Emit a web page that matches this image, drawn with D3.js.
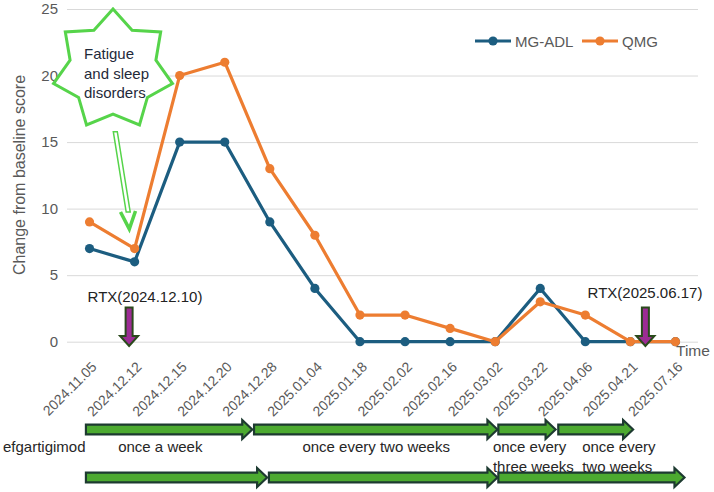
<!DOCTYPE html>
<html><head><meta charset="utf-8">
<script src="https://cdn.jsdelivr.net/npm/d3@7"></script>
<style>body{margin:0;background:#fff}svg{display:block;font-family:"Liberation Sans",Arial,sans-serif}</style>
</head><body>
<svg id="c" width="714" height="492"></svg>
<script>
const categories = ["2024.11.05","2024.12.12","2024.12.15","2024.12.20","2024.12.28","2025.01.04","2025.01.18","2025.02.02","2025.02.16","2025.03.02","2025.03.22","2025.04.06","2025.04.21","2025.07.16"];
const mgadl = [7,6,15,15,9,4,0,0,0,0,4,0,0,0];
const qmg   = [9,7,20,21,13,8,2,2,1,0,3,2,0,0];
const yTicks = [0,5,10,15,20,25];
const seriesNames = ["MG-ADL","QMG"];
const rtxLabels = ["RTX(2024.12.10)","RTX(2025.06.17)"];
// treatment schedule, start/end in category-index units
const scheduleRow1 = [[-0.08,3.61],[3.65,9.05],[9.07,10.34],[10.40,12.06]];
const scheduleRow2 = [[-0.08,3.94],[3.98,9.05],[9.07,13.20]];
const scheduleLabels = [
  {lines:["once a week"], at:1.57, anchor:"middle"},
  {lines:["once every two weeks"], at:6.36, anchor:"middle"},
  {lines:["once every","three weeks"], at:8.95, anchor:"start"},
  {lines:["once every","two weeks"], at:10.93, anchor:"start"}
];

const svg = d3.select("#c");
const pL=67,pR=698,pT=9,pB=341.7;
const x = d3.scaleBand().domain(categories).range([pL,pR]).padding(0);
const cx = c => x(c)+x.bandwidth()/2;
const xi = d3.scaleLinear().domain([0,1]).range([cx(categories[0]), cx(categories[1])]);
const y = d3.scaleLinear().domain([0,25]).range([pB,pT]);
const gray="#595959", blue="#1c5d80", orange="#ed7d31";

// y grid + labels
const ya = svg.append("g").attr("transform",`translate(${pL},0)`)
  .call(d3.axisLeft(y).tickValues(yTicks).tickSize(-(pR-pL)).tickPadding(9));
ya.select(".domain").remove();
ya.selectAll(".tick line").attr("stroke","#d9d9d9").attr("stroke-width",1);
ya.selectAll(".tick text").attr("fill",gray).style("font-size","15px").attr("font-family","Liberation Sans, Arial");

// x labels
const xa = svg.append("g").attr("transform",`translate(0,${pB})`)
  .call(d3.axisBottom(x).tickSize(0).tickPadding(0));
xa.select(".domain").remove();
xa.selectAll(".tick text").attr("fill",gray).style("font-size","14px").attr("font-family","Liberation Sans, Arial")
  .attr("text-anchor","end").attr("dy",0)
  .attr("transform","translate(8,26) rotate(-45)").attr("x",0).attr("y",0);

// y title
svg.append("text").attr("transform",`translate(25,175) rotate(-90)`).attr("text-anchor","middle")
  .attr("fill",gray).style("font-size","16px").text("Change from baseline score");
// Time
svg.append("text").attr("x",676).attr("y",356).attr("fill",gray).style("font-size","15.5px").text("Time");

// series
const line = d3.line().x((d,i)=>cx(categories[i])).y(d=>y(d));
[[mgadl,blue],[qmg,orange]].forEach(([vals,col])=>{
  svg.append("path").datum(vals).attr("d",line).attr("fill","none").attr("stroke",col)
    .attr("stroke-width",3.2).attr("stroke-linejoin","round");
  svg.append("g").selectAll("circle").data(vals).join("circle")
    .attr("cx",(d,i)=>cx(categories[i])).attr("cy",d=>y(d)).attr("r",4.6).attr("fill",col);
});

// legend
const lg = svg.append("g");
[[seriesNames[0],blue,475],[seriesNames[1],orange,582]].forEach(([n,col,lx])=>{
  lg.append("line").attr("x1",lx).attr("x2",lx+36).attr("y1",41).attr("y2",41).attr("stroke",col).attr("stroke-width",3.2);
  lg.append("circle").attr("cx",lx+18).attr("cy",41).attr("r",4.6).attr("fill",col);
  lg.append("text").attr("x",lx+40).attr("y",46.5).attr("fill",gray).style("font-size","15px").text(n);
});

// RTX arrows
function rtxArrow(ax){
  const w=3.5, hw=9, yt=307.5, yh=336, tip=346;
  svg.append("path").attr("d",`M${ax-w},${yt}L${ax+w},${yt}L${ax+w},${yh}L${ax+hw},${yh}L${ax},${tip}L${ax-hw},${yh}L${ax-w},${yh}Z`)
    .attr("fill","#9c2c94").attr("stroke","#2a4a1c").attr("stroke-width",2).attr("stroke-linejoin","miter");
}
const rtx1x = cx(categories[1])-5.5, rtx2x = cx(categories[12])+15;
rtxArrow(rtx1x); rtxArrow(rtx2x);
svg.append("text").attr("x",145).attr("y",302).attr("text-anchor","middle").attr("fill","#222").style("font-size","15px").text(rtxLabels[0]);
svg.append("text").attr("x",645).attr("y",298).attr("text-anchor","middle").attr("fill","#222").style("font-size","15px").text(rtxLabels[1]);

// star
const starG="#56d44a";
const scx=113, scy=70, R=61, r=44, n=7;
const pts=[];
for(let k=0;k<2*n;k++){const a=-Math.PI/2+k*Math.PI/n; const rr=k%2?r:R; pts.push([scx+rr*Math.cos(a), scy+rr*Math.sin(a)]);}
svg.append("path").attr("d","M"+pts.map(p=>p.join(",")).join("L")+"Z").attr("fill","#fff").attr("stroke",starG).attr("stroke-width",3).attr("stroke-linejoin","miter");
["Fatigue","and sleep","disorders"].forEach((t,i)=>svg.append("text").attr("x",84).attr("y",59+i*19.5).attr("fill","#1f2a3a").style("font-size","15px").text(t));
// hollow arrow from star
svg.append("path").attr("d","M113.3,131.7L117.3,131.7L130.2,212L126.2,212Z").attr("fill","#fff").attr("stroke",starG).attr("stroke-width",1.5);
svg.append("path").attr("d","M120.5,212L129.3,229L135.5,211").attr("fill","none").attr("stroke",starG).attr("stroke-width",3.5).attr("stroke-linejoin","miter");

// schedule arrows
function schedArrow(x0,x1,yc){
  const bh=4.8, hh=9.5, hl=10;
  svg.append("path").attr("d",`M${x0},${yc-bh}L${x1-hl},${yc-bh}L${x1-hl},${yc-hh}L${x1},${yc}L${x1-hl},${yc+hh}L${x1-hl},${yc+bh}L${x0},${yc+bh}Z`)
    .attr("fill","#4caa30").attr("stroke","#1d3a30").attr("stroke-width",2.2).attr("stroke-linejoin","miter");
}
scheduleRow1.forEach(([a,b])=>schedArrow(xi(a),xi(b),429.5));
scheduleRow2.forEach(([a,b])=>schedArrow(xi(a),xi(b),477.5));
svg.append("text").attr("x",3).attr("y",452).attr("fill","#262626").style("font-size","15px").text("efgartigimod");
scheduleLabels.forEach(l=>{
  l.lines.forEach((t,i)=>svg.append("text").attr("x",xi(l.at)).attr("y",452+i*19.5).attr("text-anchor",l.anchor)
    .attr("fill","#262626").style("font-size","15px").text(t));
});
</script>
</body></html>
